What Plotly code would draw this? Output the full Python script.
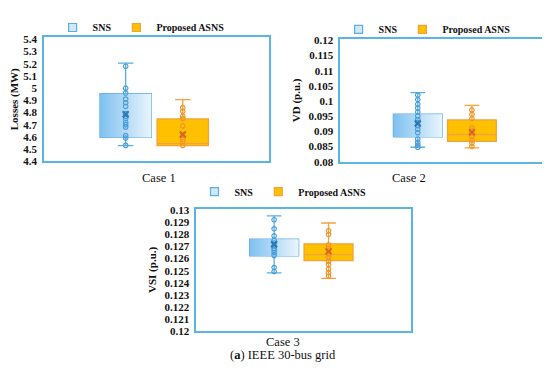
import plotly.graph_objects as go

# ---------------- data ----------------
groups = ["SNS", "Proposed ASNS"]
cases = ["Case 1", "Case 2", "Case 3"]
y_titles = ["Losses (MW)", "VD (p.u.)", "VSI (p.u.)"]

# Case 1 – losses (MW)
c1_sns_stats = dict(lower=4.528, q1=4.595, median=4.819, q3=4.955, upper=5.205, mean=4.785)
c1_asns_stats = dict(lower=4.528, q1=4.528, median=4.544, q3=4.747, upper=4.905, mean=4.620)
c1_sns_pts = [5.18, 5.00, 4.96, 4.91, 4.88, 4.85, 4.79, 4.77, 4.75, 4.72, 4.70, 4.68, 4.61, 4.59, 4.53]
c1_asns_pts = [4.84, 4.81, 4.77, 4.75, 4.69, 4.62, 4.58, 4.56, 4.53]

# Case 2 – VD (p.u.)
c2_sns_stats = dict(lower=0.0848, q1=0.0882, median=0.0928, q3=0.0957, upper=0.1028, mean=0.0926)
c2_asns_stats = dict(lower=0.0846, q1=0.0867, median=0.0890, q3=0.0938, upper=0.0986, mean=0.0897)
c2_sns_pts = [0.1020, 0.1005, 0.0990, 0.0977, 0.0964, 0.0951, 0.0939, 0.0930, 0.0919,
              0.0907, 0.0896, 0.0875, 0.0864, 0.0855, 0.0848]
c2_asns_pts = [0.0971, 0.0956, 0.0943, 0.0912, 0.0904, 0.0896, 0.0883, 0.0872, 0.0862, 0.0851]

# Case 3 – VSI (p.u.)
c3_sns_stats = dict(lower=0.12482, q1=0.12622, median=0.12691, q3=0.12761, upper=0.12954, mean=0.12719)
c3_asns_stats = dict(lower=0.12437, q1=0.12584, median=0.12633, q3=0.12723, upper=0.12895, mean=0.12660)
c3_sns_pts = [0.12922, 0.12847, 0.12788, 0.12750, 0.12729, 0.12707, 0.12685, 0.12670,
              0.12649, 0.12627, 0.12526, 0.12494]
c3_asns_pts = [0.12831, 0.12799, 0.12715, 0.12686, 0.12665, 0.12638, 0.12611, 0.12579,
               0.12552, 0.12514, 0.12482, 0.12456]

y_ranges = [[4.4, 5.418], [0.08, 0.1205], [0.12, 0.13013]]
y_dticks = [0.1, 0.005, 0.001]

# ---------------- styling ----------------
SERIF = "Liberation Serif"
FRAME = "#5ab4e4"
BOX_W = 0.9
styles = {
    "SNS": dict(fill="rgba(0,0,0,0)", grad=[[0, "#7fc0f0"], [1, "#e9f5fd"]],
                line="#5aaee2", pt="#4a9fd8", mean="#2b78b5", legfill="#cfe8fa"),
    "Proposed ASNS": dict(fill="#ffc000", grad=None,
                          line="#f2a23c", pt="#f0952a", mean="#d8661a", legfill="#ffc000"),
}

x_domains = [[0.0655, 0.4745], [0.6042, 0.9922], [0.3424, 0.7322]]
y_domains = [[0.5917, 0.9332], [0.5901, 0.9286], [0.1238, 0.4607]]
legend_pos = [(0.242, 1.0, "top"), (0.762, 0.995, "top"), (0.5, 0.508, "middle")]

panels = [
    (c1_sns_stats, c1_asns_stats, c1_sns_pts, c1_asns_pts),
    (c2_sns_stats, c2_asns_stats, c2_sns_pts, c2_asns_pts),
    (c3_sns_stats, c3_asns_stats, c3_sns_pts, c3_asns_pts),
]

fig = go.Figure()
layout = {}
for p, (s_sns, s_asns, pts_sns, pts_asns) in enumerate(panels):
    ax = "" if p == 0 else str(p + 1)
    xref, yref = "x" + ax, "y" + ax
    legname = "legend" if p == 0 else "legend" + str(p + 1)
    for gi, (g, st, pts) in enumerate([(groups[0], s_sns, pts_sns), (groups[1], s_asns, pts_asns)]):
        sty = styles[g]
        # gradient underlay for the box body (derived from the quartiles)
        if sty["grad"] is not None:
            x0, x1 = gi - BOX_W / 2, gi + BOX_W / 2
            fig.add_trace(go.Scatter(
                x=[x0, x1, x1, x0, x0], y=[st["q1"], st["q1"], st["q3"], st["q3"], st["q1"]],
                mode="lines", line=dict(width=0), fill="toself",
                fillgradient=dict(type="horizontal", colorscale=sty["grad"]),
                xaxis=xref, yaxis=yref, showlegend=False, hoverinfo="skip",
            ))
        fig.add_trace(go.Box(
            name=g, x=[gi], q1=[st["q1"]], median=[st["median"]], q3=[st["q3"]],
            lowerfence=[st["lower"]], upperfence=[st["upper"]],
            fillcolor=sty["fill"], line=dict(color=sty["line"], width=1.3),
            width=BOX_W, whiskerwidth=0.3, boxpoints=False,
            xaxis=xref, yaxis=yref, showlegend=False, hoverinfo="skip",
        ))
        fig.add_trace(go.Scatter(
            x=[gi] * len(pts), y=pts, mode="markers",
            marker=dict(symbol="circle-open", size=4.5, color=sty["pt"], line=dict(width=1.2)),
            xaxis=xref, yaxis=yref, showlegend=False, hoverinfo="skip",
        ))
        fig.add_trace(go.Scatter(
            x=[gi], y=[st["mean"]], mode="markers",
            marker=dict(symbol="x-thin", size=6, color=sty["mean"], line=dict(width=2, color=sty["mean"])),
            xaxis=xref, yaxis=yref, showlegend=False, hoverinfo="skip",
        ))
        # legend entry
        fig.add_trace(go.Scatter(
            name=g, x=[None], y=[None], mode="markers",
            marker=dict(symbol="square", size=8, color=sty["legfill"], line=dict(width=1.2, color=sty["line"])),
            xaxis=xref, yaxis=yref, legend=legname, showlegend=True, hoverinfo="skip",
        ))

    layout["xaxis" + ax] = dict(
        domain=x_domains[p], range=[-1.43, 2.51], anchor=yref,
        showticklabels=False, ticks="", showgrid=False, zeroline=False,
        showline=True, mirror=True, linecolor=FRAME, linewidth=1.5,
    )
    layout["yaxis" + ax] = dict(
        domain=y_domains[p], range=y_ranges[p], anchor=xref,
        dtick=y_dticks[p], tick0=y_ranges[p][0], ticks="", showgrid=False, zeroline=False,
        showline=True, mirror=True, linecolor=FRAME, linewidth=1.5,
        tickfont=dict(family=SERIF, size=11, color="#111", weight="bold"),
        title=dict(text=y_titles[p], font=dict(family=SERIF, size=11, color="#111", weight="bold"),
                   standoff=6),
        ticklabelstandoff=3,
    )
    lx, ly, lanchor = legend_pos[p]
    layout[legname] = dict(
        orientation="h", x=lx, xanchor="center", y=ly, yanchor=lanchor,
        font=dict(family=SERIF, size=10, color="#111", weight="bold"),
        bgcolor="rgba(0,0,0,0)", itemwidth=30, tracegroupgap=0,
    )

annotations = [
    dict(text=cases[0], x=0.24, y=0.545, xref="paper", yref="paper", showarrow=False,
         font=dict(family=SERIF, size=12.5, color="#111")),
    dict(text=cases[1], x=0.764, y=0.545, xref="paper", yref="paper", showarrow=False,
         font=dict(family=SERIF, size=12.5, color="#111")),
    dict(text=cases[2], x=0.5, y=0.069, xref="paper", yref="paper", showarrow=False,
         font=dict(family=SERIF, size=12.5, color="#111")),
    dict(text="(<b>a</b>) IEEE 30-bus grid", x=0.5, y=0.032, xref="paper", yref="paper",
         showarrow=False, font=dict(family=SERIF, size=12.5, color="#111")),
]

fig.update_layout(
    width=550, height=374, margin=dict(l=0, r=0, t=0, b=0),
    paper_bgcolor="white", plot_bgcolor="white",
    annotations=annotations, **layout,
)

fig.write_html("out.html")
